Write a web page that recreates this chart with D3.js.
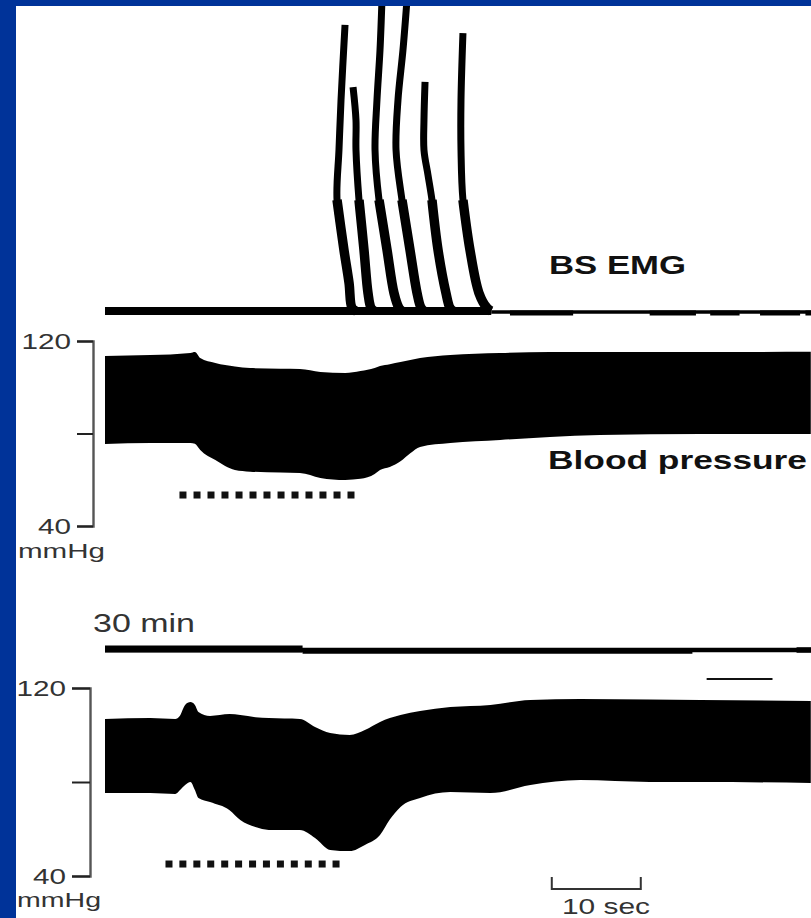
<!DOCTYPE html>
<html>
<head>
<meta charset="utf-8">
<script src="https://cdn.jsdelivr.net/npm/d3@7"></script>
<style>
  html, body { margin: 0; padding: 0; background: #ffffff; }
  svg { display: block; }
  text { font-family: "Liberation Sans", Arial, Helvetica, sans-serif; }
</style>
</head>
<body>
<script>
// ---- Recording data (time in seconds, pressure in mmHg, EMG in arbitrary units) ----

// Blood pressure axis ticks
const bpTicks = [120, 80, 40];
const bpTickLabels = ["120", "", "40"];

// Trace 1 (acute): blood pressure envelope
const bp1Time =      [0, 5.1, 9.6, 10.1, 10.7, 12.4, 14.6, 16.3, 19.7, 21.9, 24.2, 27.0, 28.7, 30.3, 30.9, 32.0, 33.2, 34.3, 35.4, 38.8, 44.4, 50.0, 55.6, 66.9, 79.3];
const bp1Systolic =  [113.5, 113.9, 114.8, 115.2, 112.6, 110.5, 109.0, 108.3, 108.0, 107.9, 106.6, 106.2, 107.0, 108.3, 109.2, 110.0, 110.9, 111.8, 112.6, 113.9, 114.8, 115.2, 115.2, 115.2, 115.3];
const bp1Diastolic = [75.5, 75.9, 75.9, 75.6, 72.9, 68.5, 64.2, 63.5, 63.1, 62.9, 60.8, 59.9, 60.4, 62.5, 64.2, 65.5, 68.0, 71.5, 74.2, 75.9, 77.2, 78.5, 79.3, 79.8, 79.8];

// Trace 2 (30 min): blood pressure envelope
const bp2Time =      [0, 5.1, 7.9, 8.4, 9.0, 9.6, 10.1, 10.5, 11.8, 14.0, 15.2, 16.9, 18.4, 21.9, 23.6, 25.3, 27.5, 29.2, 30.9, 32.0, 33.2, 35.4, 38.8, 43.3, 47.8, 53.4, 61.2, 66.9, 79.3];
const bp2Systolic =  [106.8, 107.2, 106.8, 108.1, 112.8, 114.0, 112.8, 109.8, 108.1, 108.9, 108.5, 107.6, 107.2, 106.8, 103.4, 100.8, 100.0, 102.1, 105.5, 107.2, 108.5, 110.2, 111.9, 112.8, 114.9, 115.3, 115.1, 114.9, 114.5];
const bp2Diastolic = [75.3, 75.3, 74.9, 76.5, 78.7, 80.0, 76.6, 73.2, 71.5, 68.0, 63.8, 60.8, 59.6, 59.6, 56.2, 51.1, 50.6, 53.2, 57.4, 64.0, 69.4, 73.2, 75.7, 75.3, 78.7, 80.8, 80.0, 80.0, 79.6];

// Stimulation periods (dotted markers)
const stim1Times = [8.76, 10.34, 11.91, 13.48, 15.06, 16.63, 18.20, 19.78, 21.35, 22.92, 24.49, 26.07, 27.64];
const stim2Times = [7.19, 8.75, 10.32, 11.88, 13.45, 15.01, 16.58, 18.14, 19.71, 21.27, 22.84, 24.40, 25.96];

// Bulbospongiosus EMG bursts in trace 1: [time, amplitude]
const emgBursts = [
  [[26.97, 93.8], [26.52, 69.2], [26.29, 52.8], [26.07, 36.4], [26.85, 20.0], [27.42, 9.2], [27.75, 1.0], [28.2, 0]],
  [[27.87, 73.4], [28.20, 62.6], [28.20, 52.8], [28.54, 36.4], [29.10, 20.0], [29.55, 5.9], [29.89, 1.0], [30.22, 0]],
  [[31.12, 102], [30.90, 85.6], [30.56, 69.2], [30.34, 52.8], [30.79, 36.4], [31.69, 20.0], [32.47, 5.9], [33.03, 1.0], [33.37, 0]],
  [[33.93, 102], [33.48, 85.6], [32.92, 69.2], [32.70, 52.8], [33.37, 36.4], [34.27, 20.0], [35.06, 5.9], [35.51, 1.0], [35.84, 0]],
  [[35.96, 75.1], [35.84, 62.6], [35.84, 52.8], [36.29, 44.6], [36.74, 36.4], [37.42, 20.0], [38.31, 5.9], [38.76, 1.0], [39.10, 0]],
  [[40.22, 91.1], [40.00, 69.2], [40.00, 52.8], [40.22, 36.4], [41.01, 20.0], [42.02, 5.9], [42.92, 1.0], [43.37, 0]]
];

// Low-level EMG activity intervals on the baselines: [start, end]
const emg1Activity = [[45.5, 52.6], [61.2, 66.4], [68.0, 71.3], [73.6, 78.1], [78.7, 79.4]];
const emg2Activity = [[0, 22.2], [22.2, 66.0], [77.7, 79.4]];

// Labels
const emgLabel = "BS EMG";
const bpLabel = "Blood pressure";
const sessionLabel = "30 min";
const unitLabel = "mmHg";
const scaleBarSeconds = 10;
const scaleBarLabel = "10 sec";

// ---- Layout ----
const W = 811, H = 918;
const svg = d3.select("body").append("svg")
  .attr("width", W).attr("height", H)
  .attr("viewBox", `0 0 ${W} ${H}`);

svg.append("rect").attr("width", W).attr("height", H).attr("fill", "#ffffff");

// Time runs left to right across both traces
const x = d3.scaleLinear().domain([0, 80]).range([105, 817]);

// Pressure scales for the two panels
const y1 = d3.scaleLinear().domain([40, 120]).range([526, 341]);
const y2 = d3.scaleLinear().domain([40, 120]).range([876, 688]);

// EMG amplitude scale (trace 1) and baseline for trace 2
const yEmg1 = d3.scaleLinear().domain([0, 100]).range([311, 6]);
const emg2Base = 650;

const stretched = (sel, len) => sel
  .attr("textLength", len)
  .attr("lengthAdjust", "spacingAndGlyphs");

// ---- EMG trace 1 ----
const g1 = svg.append("g");
g1.append("line")
  .attr("x1", x(0)).attr("x2", x(43.4))
  .attr("y1", yEmg1(0)).attr("y2", yEmg1(0))
  .attr("stroke", "#000").attr("stroke-width", 8);
g1.append("line")
  .attr("x1", x(43.4)).attr("x2", W)
  .attr("y1", yEmg1(0) + 1).attr("y2", yEmg1(0) + 1)
  .attr("stroke", "#000").attr("stroke-width", 3.5);
g1.selectAll("line.act").data(emg1Activity).join("line")
  .attr("class", "act")
  .attr("x1", d => x(d[0])).attr("x2", d => x(d[1]))
  .attr("y1", yEmg1(0) + 2).attr("y2", yEmg1(0) + 2)
  .attr("stroke", "#000").attr("stroke-width", 5);

const emgLine = d3.line()
  .x(d => x(d[0])).y(d => yEmg1(d[1]))
  .curve(d3.curveCatmullRom.alpha(0.5));

g1.selectAll("path.burst").data(emgBursts).join("path")
  .attr("class", "burst")
  .attr("d", emgLine)
  .attr("fill", "none").attr("stroke", "#000")
  .attr("stroke-width", 7);
// Lower segments of the bursts are drawn heavier
g1.selectAll("path.burstBase").data(emgBursts.map(b => b.filter(p => p[1] <= 40))).join("path")
  .attr("class", "burstBase")
  .attr("d", emgLine)
  .attr("fill", "none").attr("stroke", "#000")
  .attr("stroke-width", 9.5);

svg.append("text")
  .attr("x", 549).attr("y", 274)
  .attr("font-size", 25).attr("font-weight", "bold").attr("fill", "#111")
  .call(stretched, 137)
  .text(emgLabel);

// ---- Blood pressure panels ----
function bpPanel(time, sys, dia, yScale, axisX, tickLen) {
  const data = time.map((t, i) => ({ t, s: sys[i], d: dia[i] }));
  const area = d3.area()
    .x(d => x(d.t))
    .y0(d => yScale(d.d))
    .y1(d => yScale(d.s))
    .curve(d3.curveMonotoneX);
  svg.append("path").datum(data)
    .attr("d", area)
    .attr("fill", "#000");

  const axis = d3.axisLeft(yScale)
    .tickValues(bpTicks)
    .tickFormat((d, i) => bpTickLabels[i])
    .tickSize(tickLen)
    .tickSizeOuter(tickLen)
    .tickPadding(6);
  const ga = svg.append("g")
    .attr("transform", `translate(${axisX},0)`)
    .call(axis);
  ga.select(".domain").attr("stroke", "#555").attr("stroke-width", 2.4);
  ga.selectAll(".tick line").attr("stroke", "#222").attr("stroke-width", 2);
  ga.selectAll(".tick text")
    .attr("font-size", 22)
    .attr("fill", "#333")
    .attr("font-family", "Liberation Sans, Arial, sans-serif")
    .each(function () {
      const t = d3.select(this);
      const s = t.text();
      if (s) t.attr("textLength", s.length * 16.5).attr("lengthAdjust", "spacingAndGlyphs");
    });
  return ga;
}

bpPanel(bp1Time, bp1Systolic, bp1Diastolic, y1, 93, 16);
bpPanel(bp2Time, bp2Systolic, bp2Diastolic, y2, 90, 18);

svg.append("text")
  .attr("x", 18).attr("y", 558)
  .attr("font-size", 20).attr("fill", "#333")
  .call(stretched, 87)
  .text(unitLabel);
svg.append("text")
  .attr("x", 17).attr("y", 907)
  .attr("font-size", 20).attr("fill", "#333")
  .call(stretched, 84)
  .text(unitLabel);

svg.append("text")
  .attr("x", 548).attr("y", 469)
  .attr("font-size", 25).attr("font-weight", "bold").attr("fill", "#111")
  .call(stretched, 259)
  .text(bpLabel);

// Stimulation markers
const dotSize = 7;
svg.selectAll("rect.stim1").data(stim1Times).join("rect")
  .attr("class", "stim1")
  .attr("x", d => x(d) - dotSize / 2).attr("y", y1(53.4) - dotSize / 2)
  .attr("width", dotSize).attr("height", dotSize)
  .attr("fill", "#111");
svg.selectAll("rect.stim2").data(stim2Times).join("rect")
  .attr("class", "stim2")
  .attr("x", d => x(d) - dotSize / 2).attr("y", y2(45.1) - dotSize / 2)
  .attr("width", dotSize).attr("height", dotSize)
  .attr("fill", "#111");

// ---- EMG trace 2 (30 min) ----
svg.append("text")
  .attr("x", 93).attr("y", 632)
  .attr("font-size", 25).attr("fill", "#333")
  .call(stretched, 102)
  .text(sessionLabel);

svg.append("line")
  .attr("x1", x(0)).attr("x2", W)
  .attr("y1", emg2Base).attr("y2", emg2Base)
  .attr("stroke", "#000").attr("stroke-width", 4.5);
svg.selectAll("line.act2").data(emg2Activity).join("line")
  .attr("class", "act2")
  .attr("x1", d => x(d[0])).attr("x2", d => x(d[1]))
  .attr("y1", (d, i) => emg2Base - (i === 0 ? 1 : 0) + (i === 1 ? 1 : 0))
  .attr("y2", (d, i) => emg2Base - (i === 0 ? 1 : 0) + (i === 1 ? 1 : 0))
  .attr("stroke", "#000")
  .attr("stroke-width", (d, i) => (i === 0 ? 7 : 5.5));

// Reference bar above trace 2
svg.append("line")
  .attr("x1", x(67.6)).attr("x2", x(75.0))
  .attr("y1", 679).attr("y2", 679)
  .attr("stroke", "#111").attr("stroke-width", 2);

// ---- Time scale bar ----
const sbStart = 50.2;
const sbY = 889, sbTick = 12;
svg.append("path")
  .attr("d", `M${x(sbStart)},${sbY - sbTick}V${sbY}H${x(sbStart + scaleBarSeconds)}V${sbY - sbTick}`)
  .attr("fill", "none").attr("stroke", "#333").attr("stroke-width", 2);
svg.append("text")
  .attr("x", 562).attr("y", 914)
  .attr("font-size", 22).attr("fill", "#333")
  .call(stretched, 88)
  .text(scaleBarLabel);

// ---- Slide frame ----
svg.append("rect").attr("x", 0).attr("y", 0).attr("width", W).attr("height", 6).attr("fill", "#003399");
svg.append("rect").attr("x", 0).attr("y", 0).attr("width", 16).attr("height", H).attr("fill", "#003399");
</script>
</body>
</html>
